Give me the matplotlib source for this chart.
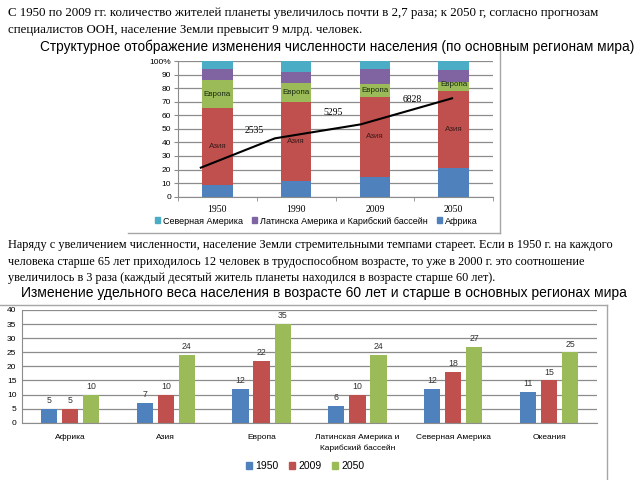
import matplotlib
matplotlib.use("Agg")
import matplotlib.pyplot as plt
import numpy as np
from matplotlib.lines import Line2D
from matplotlib.patches import Patch

plt.rcParams["font.family"] = ["Liberation Sans", "DejaVu Sans"]

# ---- data: structure of world population by region (share, %) ----
years = ["1950", "1990", "2009", "2050"]
africa = [8.6, 11.5, 14.3, 20.9]
asia = [56.5, 58.5, 59.4, 57.2]
europe = [20.9, 13.5, 9.1, 6.2]
latam = [7.9, 8.5, 11.1, 9.1]
namer = [6.1, 8.0, 6.1, 6.6]
pop_line = [21.4, 43.0, 53.3, 72.5]
pop_labels = ["2535", "5295", "6828"]

# ---- data: share of population aged 60+ (%) ----
regions = ["Африка", "Азия", "Европа", "Латинская Америка и\nКарибский бассейн",
           "Северная Америка", "Океания"]
old_1950 = [5, 7, 12, 6, 12, 11]
old_2009 = [5, 10, 22, 10, 18, 15]
old_2050 = [10, 24, 35, 24, 27, 25]

BLUE, RED, GREEN, PURPLE, CYAN = "#4F81BD", "#C0504D", "#9BBB59", "#8064A2", "#4BACC6"
GRID = "#8c8c8c"
FRAME = "#a6a6a6"
W, H = 640, 480


def fx(px):
    return px / W


def fy(py):
    return 1 - py / H


fig = plt.figure(figsize=(6.4, 4.8), dpi=100)
fig.patch.set_facecolor("white")

serif = ["Liberation Serif", "DejaVu Serif"]
fig.text(fx(8), fy(13), "С 1950 по 2009 гг. количество жителей планеты увеличилось почти в 2,7 раза; "
         "к 2050 г, согласно прогнозам", family=serif, fontsize=9.3, va="center", ha="left")
fig.text(fx(8), fy(30), "специалистов ООН, население Земли превысит 9 млрд. человек.",
         family=serif, fontsize=9.3, va="center", ha="left")
fig.text(fx(40), fy(47), "Структурное отображение изменения численности населения (по основным регионам мира)",
         fontsize=9.8, va="center", ha="left")

fig.text(fx(8), fy(245), "Наряду с увеличением численности, население Земли стремительными темпами стареет. "
         "Если в 1950 г. на каждого", family=serif, fontsize=8.8, va="center", ha="left")
fig.text(fx(8), fy(262), "человека старше 65 лет приходилось 12 человек в трудоспособном возрасте, "
         "то уже в 2000 г. это соотношение", family=serif, fontsize=8.8, va="center", ha="left")
fig.text(fx(8), fy(278), "увеличилось в 3 раза (каждый десятый житель планеты находился в возрасте старше 60 лет).",
         family=serif, fontsize=8.8, va="center", ha="left")
fig.text(fx(21), fy(293), "Изменение удельного веса населения в возрасте 60 лет и старше в основных регионах мира",
         fontsize=10.0, va="center", ha="left")

# chart frames (bottom/right edges of the pasted chart images)
for xs, ys in [((128, 500), (233, 233)), ((500, 500), (50, 233)),
               ((0, 607), (305, 305)), ((607, 607), (305, 480))]:
    fig.add_artist(Line2D([fx(xs[0]), fx(xs[1])], [fy(ys[0]), fy(ys[1])],
                          transform=fig.transFigure, color=FRAME, lw=1))

# ---- top: stacked 100% bars ----
ax1 = fig.add_axes([fx(178), fy(196.7), fx(493) - fx(178), fy(61) - fy(196.7)])
x = np.arange(len(years))
bw = 0.39
bottom = np.zeros(len(years))
for vals, col in [(africa, BLUE), (asia, RED), (europe, GREEN), (latam, PURPLE), (namer, CYAN)]:
    ax1.bar(x, vals, bw, bottom=bottom, color=col, zorder=2)
    bottom += np.array(vals)

asia_mid = np.array(africa) + np.array(asia) / 2
eur_mid = np.array(africa) + np.array(asia) + np.array(europe) / 2
for i in range(len(years)):
    ax1.text(x[i], asia_mid[i], "Азия", fontsize=5.8,
             ha="center", va="center", color="#3a1a1a", zorder=4)
    ax1.text(x[i], eur_mid[i] + (1.5 if i == 3 else 0), "Европа", fontsize=5.8,
             ha="center", va="center", color="#1a2a10", zorder=4)

line_shift = [-0.21, -0.27, -0.18, -0.02]
ax1.plot(x + np.array(line_shift), pop_line, color="black", lw=1.5, zorder=3)
label_y = [49, 61.7, 71.5]
for i, lab in enumerate(pop_labels):
    ax1.text(x[i] + 0.47, label_y[i], lab, family=serif, fontsize=7, ha="center",
             va="center", zorder=4)

ax1.set_xlim(-0.5, 3.5)
ax1.set_ylim(0, 100)
ax1.set_yticks(np.arange(0, 101, 10))
ax1.set_yticklabels([str(v) for v in range(0, 100, 10)] + ["100%"], fontsize=6)
ax1.set_xticks(x)
ax1.set_xticklabels(years, family=serif, fontsize=7)
ax1.set_xticks(np.arange(-0.5, 3.6, 1), minor=True)
ax1.tick_params(axis="x", which="major", length=0, pad=6)
ax1.tick_params(axis="x", which="minor", length=3, color=GRID)
ax1.tick_params(axis="y", length=3, color=GRID, pad=2)
ax1.grid(axis="y", color=GRID, lw=0.9, zorder=0)
ax1.set_axisbelow(True)
for s in ["top", "right"]:
    ax1.spines[s].set_visible(False)
ax1.spines["left"].set_color(GRID)
ax1.spines["bottom"].set_color(GRID)

handles1 = [Patch(color=CYAN), Patch(color=PURPLE), Patch(color=BLUE)]
fig.legend(handles1, ["Северная Америка", "Латинска Америка и Карибский бассейн", "Африка"],
           loc="center", bbox_to_anchor=(fx(316), fy(221)), ncol=3, frameon=False,
           fontsize=6.5, handlelength=0.6, handleheight=0.6, handletextpad=0.3,
           columnspacing=1.0, borderpad=0)

# ---- bottom: grouped bars ----
ax2 = fig.add_axes([fx(22), fy(422.7), fx(597) - fx(22), fy(310) - fy(422.7)])
xr = np.arange(len(regions))
gw = 0.17
step = 0.22
for off, vals, col in [(-step, old_1950, BLUE), (0, old_2009, RED), (step, old_2050, GREEN)]:
    bars = ax2.bar(xr + off, vals, gw, color=col, zorder=2)
    for b, v in zip(bars, vals):
        ax2.text(b.get_x() + b.get_width() / 2, v + 1.3, str(v), fontsize=6.3,
                 ha="center", va="bottom", color="#333333")

ax2.set_xlim(-0.5, 5.5)
ax2.set_ylim(0, 40)
ax2.set_yticks(np.arange(0, 41, 5))
ax2.tick_params(axis="y", labelsize=6, length=0, pad=4)
ax2.set_xticks(xr)
ax2.set_xticklabels(regions, fontsize=6, linespacing=1.6)
ax2.tick_params(axis="x", length=0, pad=8)
ax2.grid(axis="y", color=GRID, lw=0.9, zorder=0)
ax2.set_axisbelow(True)
for s in ["top", "right"]:
    ax2.spines[s].set_visible(False)
ax2.spines["left"].set_color(GRID)
ax2.spines["bottom"].set_color(GRID)

handles2 = [Patch(color=BLUE), Patch(color=RED), Patch(color=GREEN)]
fig.legend(handles2, ["1950", "2009", "2050"], loc="center",
           bbox_to_anchor=(fx(305), fy(466)), ncol=3, frameon=False, fontsize=7.5,
           handlelength=0.6, handleheight=0.6, handletextpad=0.3, columnspacing=1.0,
           borderpad=0)

fig.savefig("out.png", dpi=100, facecolor="white")
